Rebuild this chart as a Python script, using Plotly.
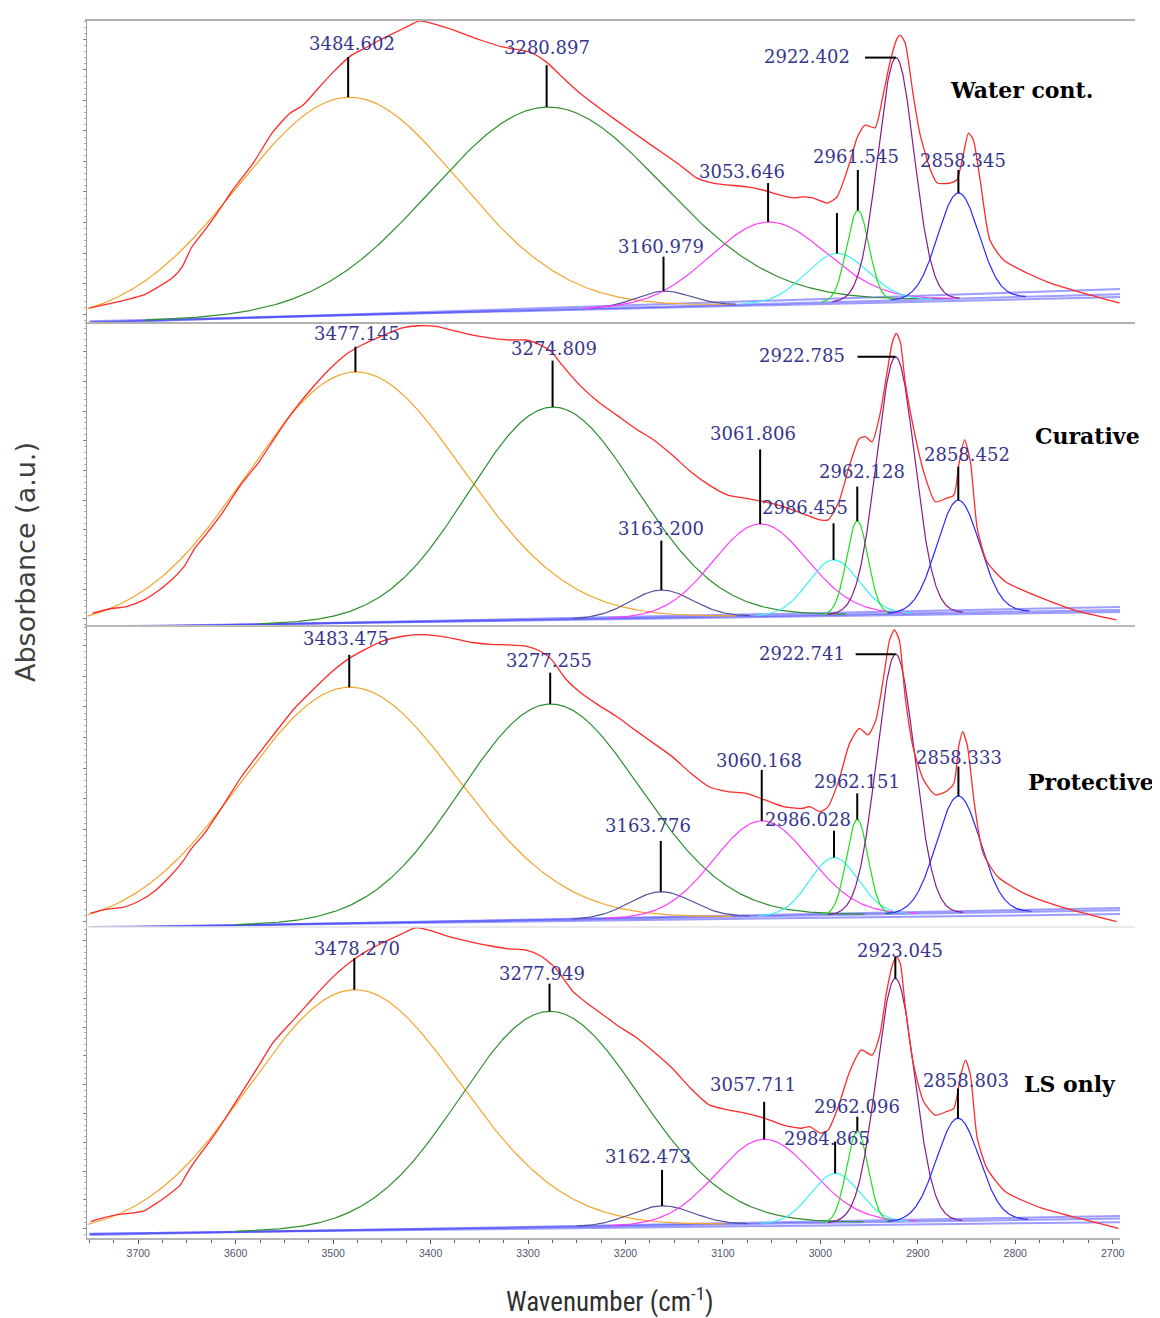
import numpy as np
import plotly.graph_objects as go

# ---------------- data ----------------
X_TICKS = [3700, 3600, 3500, 3400, 3300, 3200, 3100, 3000, 2900, 2800, 2700]
PANEL_NAMES = ["Water cont.", "Curative", "Protective", "LS only"]

# measured spectra (wavenumber cm-1, absorbance a.u.)
p1_wn = [3750, 3722, 3695, 3681, 3664, 3655, 3645, 3634, 3619, 3603, 3582, 3562, 3544, 3531, 3514, 3500, 3481,
         3465, 3452, 3442, 3431, 3421, 3411, 3383, 3349, 3326, 3298, 3281, 3267, 3247, 3213, 3178, 3144, 3127,
         3110, 3075, 3059, 3041, 3028, 3018, 3008, 2993, 2983, 2970, 2962, 2954, 2944, 2936, 2928, 2921, 2918,
         2913, 2905, 2898, 2887, 2880, 2867, 2860, 2853, 2848, 2843, 2836, 2826, 2812, 2788, 2764, 2730, 2693]
p1_abs = [0.050, 0.069, 0.092, 0.116, 0.152, 0.185, 0.251, 0.297, 0.363, 0.439, 0.528, 0.630, 0.693, 0.719, 0.779,
          0.828, 0.884, 0.911, 0.934, 0.950, 0.967, 0.983, 0.997, 0.974, 0.934, 0.911, 0.894, 0.861, 0.818, 0.759,
          0.677, 0.597, 0.521, 0.479, 0.462, 0.449, 0.439, 0.422, 0.413, 0.416, 0.413, 0.396, 0.416, 0.528, 0.614,
          0.653, 0.644, 0.746, 0.868, 0.941, 0.950, 0.924, 0.759, 0.627, 0.505, 0.462, 0.462, 0.472, 0.561, 0.627,
          0.604, 0.472, 0.274, 0.208, 0.165, 0.132, 0.099, 0.066]

p2_wn = [3747, 3730, 3712, 3694, 3683, 3668, 3653, 3642, 3631, 3613, 3595, 3576, 3558, 3540, 3522, 3503, 3485,
         3472, 3448, 3430, 3412, 3393, 3375, 3357, 3338, 3320, 3302, 3287, 3276, 3265, 3247, 3228, 3209, 3190,
         3171, 3152, 3133, 3114, 3095, 3076, 3057, 3038, 3019, 3000, 2992, 2981, 2970, 2960, 2954, 2947, 2939,
         2932, 2926, 2922, 2918, 2913, 2905, 2894, 2882, 2871, 2863, 2858, 2852, 2846, 2839, 2829, 2810, 2772,
         2734, 2696]
p2_abs = [0.042, 0.056, 0.064, 0.086, 0.108, 0.146, 0.196, 0.256, 0.300, 0.377, 0.465, 0.542, 0.630, 0.713, 0.784,
          0.850, 0.900, 0.925, 0.960, 0.983, 0.991, 0.988, 0.974, 0.960, 0.950, 0.944, 0.944, 0.927, 0.905, 0.861,
          0.795, 0.740, 0.696, 0.652, 0.614, 0.564, 0.509, 0.465, 0.432, 0.421, 0.410, 0.394, 0.372, 0.350, 0.350,
          0.410, 0.531, 0.619, 0.625, 0.608, 0.696, 0.828, 0.938, 0.966, 0.938, 0.806, 0.663, 0.509, 0.410, 0.421,
          0.432, 0.531, 0.614, 0.542, 0.322, 0.212, 0.146, 0.091, 0.047, 0.020]

p3_wn = [3749, 3734, 3716, 3698, 3683, 3668, 3654, 3646, 3632, 3613, 3595, 3577, 3558, 3540, 3522, 3503, 3485,
         3467, 3448, 3430, 3412, 3393, 3375, 3357, 3338, 3320, 3302, 3287, 3276, 3261, 3247, 3228, 3209, 3190,
         3171, 3152, 3133, 3114, 3095, 3076, 3057, 3038, 3019, 3011, 3000, 2992, 2981, 2970, 2960, 2951, 2943,
         2935, 2929, 2924, 2919, 2913, 2905, 2894, 2882, 2871, 2863, 2858, 2854, 2849, 2842, 2833, 2818, 2791,
         2753, 2715, 2696]
p3_abs = [0.046, 0.059, 0.065, 0.088, 0.120, 0.166, 0.219, 0.258, 0.311, 0.403, 0.495, 0.573, 0.652, 0.725, 0.784,
          0.843, 0.889, 0.922, 0.951, 0.965, 0.971, 0.967, 0.957, 0.945, 0.939, 0.937, 0.933, 0.915, 0.889, 0.823,
          0.781, 0.738, 0.699, 0.654, 0.610, 0.566, 0.511, 0.466, 0.450, 0.444, 0.422, 0.400, 0.394, 0.400, 0.383,
          0.400, 0.488, 0.610, 0.660, 0.638, 0.688, 0.832, 0.953, 0.987, 0.953, 0.765, 0.599, 0.488, 0.439, 0.450,
          0.477, 0.599, 0.649, 0.599, 0.411, 0.245, 0.167, 0.112, 0.067, 0.034, 0.018]

p4_wn = [3749, 3734, 3723, 3705, 3694, 3687, 3672, 3657, 3650, 3639, 3624, 3613, 3595, 3577, 3562, 3540, 3522,
         3503, 3485, 3467, 3448, 3430, 3415, 3401, 3375, 3357, 3338, 3320, 3302, 3287, 3272, 3254, 3239, 3217,
         3209, 3190, 3171, 3152, 3133, 3114, 3095, 3076, 3057, 3038, 3019, 3011, 3000, 2992, 2981, 2970, 2958,
         2947, 2939, 2932, 2926, 2922, 2918, 2913, 2905, 2894, 2882, 2871, 2863, 2856, 2851, 2846, 2839, 2829,
         2810, 2772, 2734, 2694]
p4_abs = [0.053, 0.066, 0.074, 0.081, 0.087, 0.100, 0.132, 0.170, 0.208, 0.259, 0.322, 0.373, 0.462, 0.551, 0.627,
          0.704, 0.767, 0.831, 0.881, 0.920, 0.951, 0.977, 0.998, 0.989, 0.964, 0.951, 0.939, 0.930, 0.926, 0.907,
          0.869, 0.793, 0.754, 0.704, 0.685, 0.647, 0.599, 0.546, 0.481, 0.428, 0.412, 0.401, 0.385, 0.363, 0.353,
          0.358, 0.337, 0.347, 0.428, 0.535, 0.605, 0.588, 0.653, 0.792, 0.878, 0.905, 0.883, 0.749, 0.567, 0.438,
          0.395, 0.406, 0.417, 0.524, 0.572, 0.524, 0.321, 0.224, 0.149, 0.095, 0.063, 0.031]

# fitted bands: centre (cm-1), height above baseline (a.u.), gaussian sigma (cm-1)
BAND_COLORS = ["#f5a42a", "#2f8f2f", "#50509a", "#ff3cff", "#3ef0f5", "#1ee01e", "#8a1a8a", "#2a2aff"]
p1_centers = [3484.602, 3280.897, 3160.979, 3053.646, 2983.0, 2961.545, 2922.402, 2858.345]
p1_heights = [0.719, 0.669, 0.051, 0.270, 0.160, 0.300, 0.801, 0.349]
p1_sigmas = [113, 118, 28, 59, 32, 11.5, 18.5, 21]
p1_labels = ["3484.602", "3280.897", "3160.979", "3053.646", "", "2961.545", "2922.402", "2858.345"]

p2_centers = [3477.145, 3274.809, 3163.200, 3061.806, 2986.455, 2962.128, 2922.785, 2858.452]
p2_heights = [0.828, 0.701, 0.091, 0.304, 0.181, 0.308, 0.848, 0.371]
p2_sigmas = [110, 86, 32, 48, 26, 11, 19.5, 22]
p2_labels = ["3477.145", "3274.809", "3163.200", "3061.806", "2986.455", "2962.128", "2922.785", "2858.452"]

p3_centers = [3483.475, 3277.255, 3163.776, 3060.168, 2986.028, 2962.151, 2922.741, 2858.333]
p3_heights = [0.784, 0.717, 0.087, 0.317, 0.191, 0.316, 0.863, 0.388]
p3_sigmas = [111, 92, 32, 49, 25, 11, 19.5, 22.5]
p3_labels = ["3483.475", "3277.255", "3163.776", "3060.168", "2986.028", "2962.151", "2922.741", "2858.333"]

p4_centers = [3478.270, 3277.949, 3162.473, 3057.711, 2984.865, 2962.096, 2923.045, 2858.803]
p4_heights = [0.773, 0.694, 0.063, 0.272, 0.159, 0.294, 0.783, 0.330]
p4_sigmas = [108, 92, 32, 49, 25, 11, 19.5, 22]
p4_labels = ["3478.270", "3277.949", "3162.473", "3057.711", "2984.865", "2962.096", "2923.045", "2858.803"]

# baselines: absorbance at 3750 and 2692 cm-1 (first = fit baseline)
BASE_X = [3750, 2692]
p1_baselines = [[0.003, 0.095], [0.000, 0.112], [0.006, 0.086]]
p2_baselines = [[-0.004, 0.053], [-0.006, 0.063], [-0.002, 0.046]]
p3_baselines = [[-0.002, 0.056], [-0.004, 0.063], [0.000, 0.043]]
p4_baselines = [[0.0125, 0.063], [0.010, 0.071], [0.014, 0.051]]

# ---------------- annotation layout (positions only) ----------------
# per band: ("v", top_y) vertical tick or ("h", end_x) horizontal tick; label (x, y, anchor)
P1_MARK = [("v", 0.878), ("v", 0.851), ("v", 0.219), ("v", 0.462), ("v", 0.363), ("v", 0.505), ("h", 2954.2), ("v", 0.505)]
P1_LAB = [(3481, 0.924, "center"), (3280.6, 0.908, "center"), (3163.6, 0.252, "center"), (3080.4, 0.499, "center"),
          None, (2963.4, 0.549, "center"), (2967.8, 0.879, "right"), (2853.6, 0.538, "center")]
P2_MARK = [("v", 0.922), ("v", 0.876), ("v", 0.282), ("v", 0.583), ("v", 0.339), ("v", 0.460), ("h", 2961.9), ("v", 0.526)]
P2_LAB = [(3475.8, 0.964, "center"), (3273.1, 0.917, "center"), (3163.9, 0.322, "center"), (3069.0, 0.634, "center"),
          (3015.8, 0.392, "center"), (2957.4, 0.509, "center"), (2972.6, 0.894, "right"), (2849.9, 0.567, "center")]
P3_MARK = [("v", 0.904), ("v", 0.845), ("v", 0.286), ("v", 0.522), ("v", 0.320), ("v", 0.444), ("h", 2963.8), ("v", 0.533)]
P3_LAB = [(3486.8, 0.957, "center"), (3278.9, 0.885, "center"), (3176.5, 0.336, "center"), (3062.6, 0.552, "center"),
          (3013.2, 0.358, "center"), (2962.7, 0.483, "center"), (2972.6, 0.909, "right"), (2857.5, 0.562, "center")]
P4_MARK = [("v", 0.900), ("v", 0.818), ("v", 0.219), ("v", 0.438), ("v", 0.310), ("v", 0.390), ("v", 0.905), ("v", 0.481)]
P4_LAB = [(3475.8, 0.932, "center"), (3285.2, 0.852, "center"), (3176.5, 0.261, "center"), (3069.0, 0.494, "center"),
          (2993.1, 0.321, "center"), (2962.7, 0.422, "center"), (2918.3, 0.923, "center"), (2850.6, 0.508, "center")]
NAME_POS = [(2794.1, 0.769), (2725.7, 0.628), (2722.5, 0.483), (2743.6, 0.494)]

# ---------------- build ----------------
panels = [
    (p1_wn, p1_abs, p1_centers, p1_heights, p1_sigmas, p1_labels, p1_baselines, P1_MARK, P1_LAB),
    (p2_wn, p2_abs, p2_centers, p2_heights, p2_sigmas, p2_labels, p2_baselines, P2_MARK, P2_LAB),
    (p3_wn, p3_abs, p3_centers, p3_heights, p3_sigmas, p3_labels, p3_baselines, P3_MARK, P3_LAB),
    (p4_wn, p4_abs, p4_centers, p4_heights, p4_sigmas, p4_labels, p4_baselines, P4_MARK, P4_LAB),
]
YREFS = ["y", "y2", "y3", "y4"]
DOMAINS = [[0.7512, 1.0], [0.5025, 0.7512], [0.2553, 0.5025], [0.0, 0.2553]]
TICK0 = [0.0297, 0.024, 0.019, 0.030]
DTICK = [0.1007, 0.0979, 0.1017, 0.0926]

grid = np.arange(3752.0, 2691.0, -0.5)

fig = go.Figure()
annotations = []
shapes = []
LABEL_FONT = dict(family="DejaVu Serif", size=18, color="#36368f")


def base_fn(b, x):
    return b[0] + (b[1] - b[0]) * (BASE_X[0] - np.asarray(x, dtype=float)) / (BASE_X[0] - BASE_X[1])


for i, (wn, ab, cs, hs, ss, labs, bases, marks, labpos) in enumerate(panels):
    yr = YREFS[i]
    # baselines
    for b in bases:
        fig.add_trace(go.Scatter(x=BASE_X, y=b, mode="lines", xaxis="x", yaxis=yr,
                                 line=dict(color="rgba(60,60,255,0.5)", width=2),
                                 hoverinfo="skip", showlegend=False))
    fit_base = bases[0]
    bline = base_fn(fit_base, grid)
    # bands
    for c, h, s, col in zip(cs, hs, ss, BAND_COLORS):
        g = h * np.exp(-0.5 * ((grid - c) / s) ** 2)
        y = np.where(g > 0.0015, bline + g, np.nan)
        fig.add_trace(go.Scatter(x=grid, y=y, mode="lines", xaxis="x", yaxis=yr,
                                 line=dict(color=col, width=1.2), connectgaps=False,
                                 hoverinfo="skip", showlegend=False))
    # measured spectrum
    fig.add_trace(go.Scatter(x=wn, y=ab, mode="lines", xaxis="x", yaxis=yr,
                             line=dict(color="#ff2a2a", width=1.3, shape="spline", smoothing=0.6),
                             hoverinfo="skip", showlegend=False))
    # peak markers and labels
    for c, h, lab, mk, lp in zip(cs, hs, labs, marks, labpos):
        top = float(base_fn(fit_base, c)) + h
        if mk[0] == "v":
            shapes.append(dict(type="line", xref="x", yref=yr, x0=c, x1=c, y0=top, y1=mk[1],
                               line=dict(color="black", width=2)))
        else:
            shapes.append(dict(type="line", xref="x", yref=yr, x0=c, x1=mk[1], y0=top, y1=top,
                               line=dict(color="black", width=2)))
        if lp is not None and lab:
            annotations.append(dict(x=lp[0], y=lp[1], xref="x", yref=yr, text=lab, showarrow=False,
                                    xanchor=lp[2], yanchor="middle", font=LABEL_FONT))
    annotations.append(dict(x=NAME_POS[i][0], y=NAME_POS[i][1], xref="x", yref=yr,
                            text="<b>%s</b>" % PANEL_NAMES[i], showarrow=False,
                            xanchor="center", yanchor="middle",
                            font=dict(family="DejaVu Serif", size=22, color="black")))

# panel separators / frame
for yp, col, w in [(1.0, "#b2b2b2", 2), (0.7512, "#b2b2b2", 2), (0.5025, "#b8b8b8", 2), (0.2553, "#e2e2e2", 1.5)]:
    shapes.append(dict(type="line", xref="paper", yref="paper", x0=-0.002, x1=1.0145, y0=yp, y1=yp,
                       line=dict(color=col, width=w)))

# axis titles
annotations.append(dict(x=-0.060, y=0.555, xref="paper", yref="paper", text="Absorbance (a.u.)",
                        textangle=-90, showarrow=False, xanchor="center", yanchor="middle",
                        font=dict(family="DejaVu Sans", size=27, color="#404040")))
annotations.append(dict(x=0.506, y=-0.0509, xref="paper", yref="paper", text="Wavenumber (cm<sup>-1</sup>)",
                        showarrow=False, xanchor="center", yanchor="middle",
                        font=dict(family="Liberation Sans Narrow, Arial Narrow, Roboto Condensed, sans-serif",
                                  size=27, color="#303030")))

# the page body adds an 8 px offset, so the figure is sized to the visible area
layout = dict(
    width=1152, height=1310,
    margin=dict(l=79, r=40, t=12, b=80),
    paper_bgcolor="white", plot_bgcolor="white",
    showlegend=False,
    xaxis=dict(range=[3752.6, 2692.5], anchor="y4", tickvals=X_TICKS,
               ticktext=[str(t) for t in X_TICKS], showgrid=False, zeroline=False,
               showline=True, linecolor="#b5b5b5", linewidth=2, ticks="outside", ticklen=4,
               tickcolor="#555555", tickwidth=1,
               minor=dict(ticks="outside", ticklen=3, tickcolor="#666666", dtick=25, tick0=2700),
               tickfont=dict(family="Liberation Sans", size=10.5, color="#55556e")),
    annotations=annotations,
    shapes=shapes,
)
for i, yr in enumerate(YREFS):
    key = "yaxis" if i == 0 else "yaxis%d" % (i + 1)
    layout[key] = dict(domain=DOMAINS[i], range=[0, 1], anchor="x", showgrid=False, zeroline=False,
                       showline=True, linecolor="#a0a0a0", linewidth=1.2, showticklabels=False,
                       ticks="outside", ticklen=3, tickcolor="#808080", tick0=TICK0[i], dtick=DTICK[i],
                       minor=dict(ticks="outside", ticklen=1.5, tickcolor="#b0b0b0", dtick=DTICK[i] / 5,
                                  tick0=TICK0[i]))
fig.update_layout(**layout)

fig.write_html("out.html")
